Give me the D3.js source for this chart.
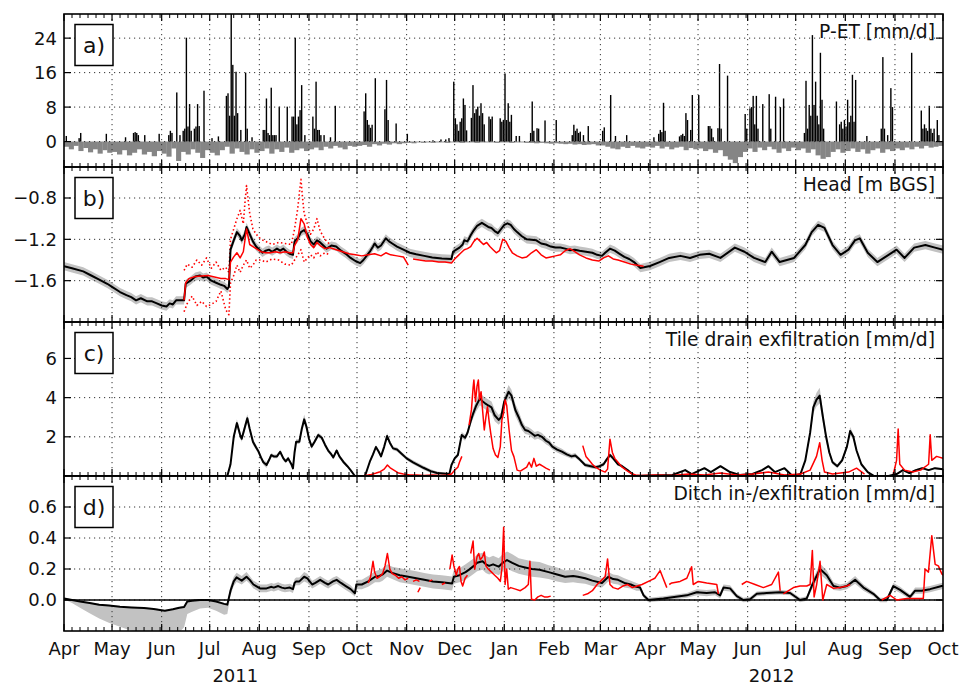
<!DOCTYPE html>
<html><head><meta charset="utf-8">
<script src="https://cdn.jsdelivr.net/npm/d3@7"></script>
<style>body{margin:0;background:#fff} text{font-family:"DejaVu Sans",sans-serif;fill:#111}</style>
</head><body><svg id="chart" width="961" height="685"></svg>
<script>
// ---------------- DATA (day = days since 2011-04-01) ----------------
const startDate = "2011-04-01", endDate = "2012-10-01";
const monthLabels = ["Apr","May","Jun","Jul","Aug","Sep","Oct","Nov","Dec","Jan","Feb","Mar","Apr","May","Jun","Jul","Aug","Sep","Oct"];
const yearLabels = [["2011",107],["2012",442]];
const panelLetters = ["a)","b)","c)","d)"];
const panelTitles = ["P-ET [mm/d]","Head [m BGS]","Tile drain exfiltration [mm/d]","Ditch in-/exfiltration [mm/d]"];
const yTicksA = [0,8,16,24], yTicksB = [-1.6,-1.2,-0.8], yTicksC = [2,4,6], yTicksD = [0.0,0.2,0.4,0.6];
const yLabelsA = ["0","8","16","24"], yLabelsB = ["\u22121.6","\u22121.2","\u22120.8"], yLabelsC = ["2","4","6"], yLabelsD = ["0.0","0.2","0.4","0.6"];

// a) P-ET positive (precipitation surplus) [day, mm/d]
const petPos = [[1,1.3],[9,0.8],[10,2],[26,1.8],[38,1],[43,2],[44,2.2],[45,2],[46,1.5],[50,1.5],[59,1.8],[65,1.5],[66,2.5],[67,2],[70,11.4],[72,1.5],[74,2.5],[75,3],[76,24.1],[77,3.5],[78,8.7],[79,2.5],[81,3],[82,3.5],[83,8.7],[84,3.6],[87,11.8],[92,0.8],[96,1.2],[101,10.6],[102,11.2],[103,6],[104,31],[105,17.8],[106,6],[107,16.2],[108,6.6],[110,2.7],[113,16],[114,3],[117,1],[124,2.7],[125,2.7],[126,10],[127,2],[128,1.5],[129,12.5],[130,1.5],[131,1.5],[132,1.5],[134,8.1],[139,8.1],[142,5.8],[143,5.8],[144,24.1],[145,4],[146,5.8],[147,7.3],[148,13.1],[150,1.5],[155,5.8],[156,3],[157,13.9],[158,2.7],[159,2.7],[160,1.5],[162,1.5],[166,1],[169,8.3],
[187,7],[188,11.2],[189,5],[190,3.9],[191,3.2],[192,3.9],[194,14.7],[200,7.5],[201,14.3],[202,5],[207,4.2],[214,1.8],[230,0.3],[235,0.5],[238,0.5],[240,0.8],[243,13.9],[244,5.4],[245,4],[246,2.5],[247,4.6],[248,5.4],[249,10],[250,8.5],[251,2.6],[254,5.5],[255,13.1],[256,6.6],[257,7.5],[258,8.1],[259,6],[260,8.9],[261,6.6],[262,4],[265,5.8],[266,5.2],[267,5.8],[272,5.4],[273,4.6],[274,5],[275,15.8],[276,5],[277,8.9],[278,4.6],[279,6.2],[282,1.3],[284,1.3],[291,2],[292,9.3],[293,2.5],[295,3.1],[296,3],[300,4.9],[307,5],[317,1.5],[318,3.9],[319,2.5],[320,3],[321,2],[322,2.3],[324,1.5],[327,3.6],[336,2.5],[337,3.3],[341,10.8],[344,1.3],[351,1.5],
[368,1],[371,1.8],[372,2.7],[373,2.2],[374,9],[375,2.5],[384,1.2],[385,1.5],[386,1.8],[387,1.3],[388,6.6],[389,5],[391,2.7],[392,10.8],[396,10.8],[402,3.6],[403,3.6],[404,3],[405,1],[408,3.1],[409,18],[410,3],[414,15.3],[425,6.4],[426,3],[428,7.7],[429,8],[430,10.6],[431,4],[432,10.6],[433,3],[436,8.7],[440,11],[441,3],[444,10.4],[447,8],[449,10],[462,2],[463,14.1],[464,3],[465,8.5],[466,6],[467,24.7],[468,8.5],[469,13.9],[470,6],[471,4],[472,20.6],[473,9.7],[474,3],[482,9.3],[484,4],[485,4.6],[486,3],[487,5],[488,3.5],[489,9.7],[490,4.5],[491,6],[492,15.5],[493,4.6],[494,14.3],[501,1.3],[510,3],[511,19.6],[512,3],[514,1.5],[516,12.4],[517,8],[529,20.6],[535,7.2],[536,3],[537,4],[538,3.1],[539,2.5],[540,8.3],[541,3],[542,2],[543,3],[545,5],[546,1.5]];

// a) P-ET negative (evapotranspiration deficit), 10 values per month, Apr 2011 .. Sep 2012
const petNeg = [
 [-1.2,-1.8,-1.0,-2.2,-1.5,-2.5,-1.8,-2.8,-2.0,-2.6],
 [-2.4,-3.0,-2.0,-3.2,-2.6,-1.8,-3.0,-2.4,-3.4,-2.2],
 [-2.8,-3.5,-1.6,-4.5,-2.4,-3.0,-1.8,-2.6,-3.8,-2.0],
 [-2.6,-3.2,-2.0,-1.2,-2.8,-1.6,-2.4,-3.0,-1.8,-2.6],
 [-2.2,-1.6,-2.8,-1.8,-2.4,-1.4,-2.6,-2.0,-1.6,-2.2],
 [-1.8,-1.4,-2.0,-1.2,-1.6,-1.0,-1.4,-1.8,-1.0,-1.2],
 [-1.0,-0.8,-1.2,-0.6,-0.9,-0.5,-0.7,-0.4,-0.6,-0.4],
 [-0.3,-0.4,-0.2,-0.3,-0.2,-0.3,-0.2,-0.2,-0.3,-0.2],
 [-0.2,-0.3,-0.2,-0.2,-0.3,-0.2,-0.2,-0.2,-0.3,-0.2],
 [-0.2,-0.3,-0.2,-0.2,-0.3,-0.3,-0.4,-0.3,-0.4,-0.5],
 [-0.4,-0.5,-0.6,-0.5,-0.7,-0.6,-0.8,-0.7,-0.6,-0.9],
 [-0.9,-1.2,-1.6,-1.8,-1.2,-1.5,-1.0,-1.4,-1.6,-1.2],
 [-1.4,-1.0,-1.6,-1.2,-1.8,-1.4,-1.2,-2.0,-1.5,-1.8],
 [-1.6,-2.2,-1.8,-2.6,-2.0,-3.4,-4.2,-5.0,-3.6,-2.4],
 [-1.6,-2.4,-1.4,-2.0,-1.2,-1.8,-2.6,-1.6,-2.2,-1.4],
 [-2.0,-1.6,-2.6,-1.8,-3.2,-4.0,-3.6,-2.4,-1.8,-2.6],
 [-2.2,-1.6,-2.4,-1.8,-2.8,-2.0,-1.6,-2.6,-1.8,-2.2],
 [-1.6,-2.0,-1.4,-1.8,-1.2,-1.6,-1.0,-1.4,-1.2,-1.0]];

// b) simulated head [day, m, band half-width]
const headSim = [[0,-1.46,0.04],[5,-1.48,0.04],[12,-1.51,0.04],[17,-1.55,0.04],[22,-1.59,0.04],[27,-1.63,0.04],[30,-1.66,0.04],[35,-1.71,0.04],[39,-1.74,0.04],[42,-1.76,0.04],[45,-1.79,0.04],[48,-1.77,0.04],[52,-1.80,0.04],[55,-1.80,0.04],[58,-1.82,0.04],[61,-1.84,0.04],[64,-1.85,0.04],[66,-1.82,0.04],[68,-1.83,0.04],[70,-1.79,0.04],[75,-1.79,0.04],[76,-1.63,0.04],[79,-1.60,0.04],[82,-1.56,0.04],[85,-1.55,0.04],[87,-1.57,0.04],[89,-1.56,0.04],[92,-1.60,0.04],[95,-1.62,0.04],[98,-1.64,0.04],[100,-1.65,0.04],[102,-1.68,0.04],[103,-1.66,0.04],[104,-1.30,0.04],[106,-1.21,0.04],[108,-1.13,0.04],[110,-1.17,0.04],[111,-1.21,0.04],[113,-1.15,0.04],[114,-1.08,0.04],[116,-1.15,0.04],[118,-1.22,0.04],[120,-1.27,0.04],[122,-1.30,0.04],[124,-1.33,0.04],[126,-1.31,0.04],[128,-1.30,0.04],[130,-1.32,0.04],[133,-1.29,0.04],[135,-1.31,0.04],[137,-1.29,0.04],[139,-1.32,0.04],[141,-1.34,0.04],[143,-1.35,0.04],[144,-1.22,0.04],[146,-1.19,0.04],[148,-1.13,0.04],[150,-1.11,0.04],[152,-1.15,0.04],[154,-1.22,0.04],[156,-1.25,0.04],[158,-1.21,0.04],[160,-1.23,0.04],[162,-1.26,0.04],[164,-1.29,0.04],[167,-1.26,0.04],[170,-1.27,0.04],[173,-1.31,0.04],[176,-1.34,0.04],[179,-1.38,0.04],[182,-1.41,0.04],[185,-1.43,0.04],[187,-1.40,0.04],[189,-1.36,0.04],[191,-1.32,0.04],[193,-1.27,0.04],[194,-1.24,0.04],[196,-1.28,0.04],[198,-1.26,0.04],[201,-1.19,0.04],[203,-1.22,0.04],[205,-1.24,0.04],[208,-1.27,0.04],[212,-1.30,0.04],[216,-1.33,0.04],[220,-1.345,0.04],[225,-1.36,0.04],[230,-1.375,0.04],[236,-1.385,0.04],[242,-1.39,0.04],[243,-1.32,0.04],[245,-1.30,0.04],[247,-1.28,0.04],[249,-1.25,0.04],[250,-1.21,0.04],[252,-1.22,0.04],[254,-1.16,0.04],[256,-1.11,0.04],[258,-1.07,0.04],[261,-1.04,0.04],[263,-1.06,0.04],[265,-1.08,0.04],[267,-1.09,0.04],[269,-1.12,0.04],[271,-1.14,0.04],[273,-1.10,0.04],[275,-1.06,0.04],[277,-1.045,0.04],[279,-1.06,0.04],[281,-1.10,0.04],[283,-1.13,0.04],[286,-1.17,0.04],[289,-1.20,0.04],[292,-1.205,0.04],[295,-1.21,0.04],[298,-1.24,0.04],[301,-1.25,0.04],[304,-1.27,0.04],[307,-1.28,0.04],[310,-1.28,0.04],[313,-1.29,0.04],[316,-1.305,0.04],[319,-1.30,0.04],[322,-1.31,0.04],[326,-1.32,0.04],[330,-1.33,0.04],[333,-1.35,0.04],[336,-1.36,0.04],[338,-1.33,0.04],[341,-1.29,0.04],[344,-1.31,0.04],[347,-1.34,0.04],[350,-1.37,0.04],[353,-1.39,0.04],[356,-1.42,0.04],[360,-1.478,0.04],[366,-1.458,0.04],[372,-1.42,0.04],[378,-1.38,0.04],[385,-1.36,0.04],[391,-1.38,0.04],[397,-1.35,0.04],[403,-1.34,0.04],[410,-1.38,0.04],[419,-1.28,0.04],[425,-1.32,0.04],[431,-1.38,0.04],[438,-1.42,0.04],[442,-1.32,0.04],[447,-1.42,0.04],[456,-1.38,0.04],[463,-1.255,0.04],[467,-1.13,0.04],[471,-1.06,0.04],[475,-1.09,0.04],[480,-1.255,0.04],[485,-1.35,0.04],[490,-1.30,0.04],[494,-1.21,0.04],[497,-1.19,0.04],[502,-1.33,0.04],[508,-1.42,0.04],[515,-1.35,0.04],[520,-1.30,0.04],[525,-1.38,0.04],[531,-1.28,0.04],[538,-1.255,0.04],[544,-1.28,0.04],[549,-1.30,0.04]];

// b) observed head (mean), segments
const headObs = [
 [[75,-1.79],[76,-1.62],[78,-1.58],[82,-1.56],[86,-1.555],[90,-1.55],[94,-1.565],[98,-1.58],[101,-1.58],[103,-1.59],[104,-1.42],[106,-1.37],[108,-1.33],[110,-1.38],[112,-1.32],[114,-1.10],[116,-1.25],[118,-1.27],[120,-1.29],[123,-1.32],[126,-1.33],[129,-1.33],[132,-1.32],[135,-1.33],[138,-1.32],[141,-1.33],[143,-1.33],[144,-1.26],[146,-1.20],[148,-1.00],[150,-1.05],[152,-1.18],[154,-1.25],[156,-1.28],[158,-1.23],[160,-1.26],[163,-1.29],[166,-1.28],[170,-1.30],[174,-1.32],[178,-1.34],[182,-1.35],[186,-1.36],[190,-1.35],[194,-1.34],[198,-1.36],[201,-1.33],[204,-1.35],[208,-1.36],[212,-1.37],[215,-1.45]],
 [[218,-1.39],[222,-1.40],[226,-1.41],[230,-1.41],[234,-1.42],[238,-1.42],[242,-1.43],[244,-1.39],[246,-1.36],[248,-1.33],[250,-1.30],[252,-1.29],[254,-1.27],[256,-1.22],[258,-1.19],[260,-1.22],[262,-1.25],[264,-1.23],[266,-1.27],[268,-1.30],[270,-1.33],[272,-1.31],[274,-1.20],[276,-1.22],[278,-1.28],[280,-1.33],[283,-1.36],[286,-1.38],[289,-1.37],[292,-1.33],[295,-1.30],[298,-1.35],[301,-1.38],[304,-1.37],[307,-1.36],[310,-1.35],[313,-1.31],[316,-1.29],[319,-1.32],[322,-1.35],[326,-1.38],[330,-1.40],[334,-1.41],[337,-1.38],[340,-1.36],[343,-1.39],[346,-1.40],[350,-1.42],[354,-1.44],[358,-1.45],[362,-1.46]]];
// b) observed head envelope (dotted)
const headObsHi = [[75,-1.50],[77,-1.44],[80,-1.47],[83,-1.40],[86,-1.45],[89,-1.38],[92,-1.48],[95,-1.42],[98,-1.50],[101,-1.47],[103,-1.52],[104,-1.20],[106,-1.10],[108,-1.00],[110,-0.92],[112,-1.05],[113,-0.85],[114,-0.68],[116,-0.95],[118,-1.10],[120,-1.15],[123,-1.20],[126,-1.22],[130,-1.25],[134,-1.23],[138,-1.24],[142,-1.25],[144,-1.10],[146,-0.90],[147,-0.75],[148,-0.62],[149,-0.80],[150,-0.95],[152,-1.05],[154,-1.15],[156,-1.10],[158,-1.00],[160,-1.12],[163,-1.20],[166,-1.25]];
const headObsLo = [[75,-1.90],[77,-1.82],[80,-1.75],[83,-1.84],[86,-1.80],[89,-1.85],[92,-1.83],[95,-1.80],[98,-1.70],[101,-1.88],[103,-1.93],[104,-1.62],[106,-1.55],[108,-1.45],[110,-1.52],[112,-1.45],[114,-1.40],[116,-1.48],[118,-1.45],[120,-1.40],[123,-1.40],[126,-1.42],[130,-1.39],[134,-1.40],[138,-1.44],[142,-1.45],[144,-1.40],[146,-1.35],[148,-1.30],[150,-1.42],[152,-1.38],[154,-1.35],[156,-1.38],[158,-1.32],[160,-1.36],[163,-1.33],[166,-1.35]];

// c) simulated tile drain exfiltration [day, mm/d, band half-width]
const tileSim = [[0,0,0],[102,0,0],[104,0.6,0.1],[106,2.0,0.15],[108,2.7,0.2],[110,2.1,0.15],[111,1.9,0.15],[113,2.5,0.2],[114.5,2.95,0.2],[116,2.4,0.15],[118,1.75,0.15],[120,1.45,0.12],[121.5,1.25,0.12],[123,0.95,0.12],[124.5,0.7,0.12],[126.5,0.56,0.15],[128,0.8,0.1],[129.5,1.07,0.1],[131,1.0,0.1],[133,1.0,0.1],[135,1.24,0.1],[137,0.9,0.1],[138.5,0.75,0.1],[140,0.9,0.1],[142,0.6,0.1],[143,0.39,0.1],[144,1.2,0.1],[145,1.75,0.12],[147,1.75,0.12],[148.5,2.4,0.15],[150,2.89,0.25],[151.5,2.5,0.2],[153,1.9,0.15],[154.7,1.5,0.12],[156.5,1.75,0.12],[158.8,2.09,0.12],[161,1.95,0.12],[163,1.6,0.12],[165,1.3,0.1],[167,1.1,0.1],[168.2,0.95,0.1],[170.3,1.3,0.1],[172,1.0,0.1],[174.4,0.73,0.1],[177,0.5,0.08],[179,0.3,0.05],[181.7,0,0],[188,0,0],[191,0.73,0.08],[193,1.1,0.1],[194.8,1.48,0.1],[196.5,1.25,0.1],[198,1.0,0.1],[200,1.5,0.12],[201.8,2.04,0.15],[203.5,1.7,0.12],[205.5,1.41,0.1],[208,1.35,0.1],[210,1.2,0.1],[214,0.9,0.1],[218,0.7,0.1],[224.5,0.42,0.1],[229,0.25,0.1],[233,0.15,0.08],[240.7,0.1,0.05],[242,0.56,0.08],[244,0.9,0.1],[246,1.07,0.1],[248.4,2.09,0.15],[250.5,1.95,0.15],[252,2.2,0.15],[254,2.8,0.2],[255.6,3.2,0.25],[257.5,3.6,0.3],[259.8,3.96,0.35],[261.5,3.8,0.3],[263,3.71,0.3],[265,3.6,0.3],[267,3.5,0.3],[269,3.1,0.3],[271.5,2.86,0.25],[273,3.0,0.25],[275,3.8,0.3],[277.7,4.3,0.35],[279.5,4.1,0.3],[281.9,3.37,0.3],[284,3.0,0.3],[286,2.6,0.25],[288,2.35,0.2],[290,2.3,0.2],[292,2.18,0.2],[294,2.05,0.2],[296,2.1,0.2],[298.5,2.0,0.2],[301,1.8,0.18],[303,1.7,0.18],[305,1.5,0.15],[308,1.35,0.15],[311,1.24,0.15],[314,1.1,0.12],[317,1.0,0.12],[319.3,1.05,0.12],[322,0.85,0.1],[325.5,0.56,0.1],[329,0.5,0.1],[332,0.45,0.1],[334,0.48,0.1],[337,0.6,0.1],[339,0.85,0.1],[341,1.07,0.1],[343,0.9,0.1],[346,0.6,0.08],[348.6,0.5,0.08],[352,0.3,0.05],[355,0.1,0.03],[357,0,0],[380,0.05,0],[388,0.3,0.05],[392,0.1,0],[400,0.4,0.05],[404,0.2,0],[410,0.5,0.05],[416,0.2,0],[422,0.05,0],[430,0.1,0],[436,0.3,0.05],[440,0.5,0.05],[444,0.2,0],[450,0.4,0.05],[455,0,0],[460,0.1,0],[463,0.8,0.1],[466,2.2,0.2],[468,3.5,0.3],[470,3.9,0.35],[472,4.1,0.4],[474,3.0,0.3],[476,2.0,0.25],[478,1.2,0.15],[480,0.7,0.1],[483,0.5,0.1],[486,0.8,0.1],[489,1.5,0.15],[491,2.3,0.2],[493,2.0,0.15],[495,1.3,0.12],[498,0.6,0.08],[502,0.2,0.03],[506,0,0],[515,0,0],[520,0.1,0.02],[524,0.3,0.05],[528,0.15,0.03],[532,0.3,0.05],[536,0.4,0.05],[540,0.3,0.05],[544,0.4,0.05],[549,0.35,0.05]];
// c) observed tile drain exfiltration, segments
const tileObs = [
 [[186,0],[190,0.05],[192,0.08],[195,0.15],[197.5,0.22],[200,0.35],[202,0.56],[204,0.4],[206,0.3],[209,0.15],[212,0.1],[216,0.05],[220,0.05],[225,0.02],[230,0.05],[235,0.03],[240,0.05],[242,0.1],[244,0.3],[246,0.45],[247,0.7],[248.5,1.0]],
 [[253,2.6],[254.5,3.4],[255.5,4.5],[256,4.9],[257,3.8],[258,4.6],[258.8,4.9],[259.5,3.9],[260.5,4.3],[261.5,3.3],[262.5,2.35],[263.5,3.0],[264.5,3.54],[265.5,2.8],[266.5,2.2],[268,1.4],[269.5,1.07],[271,0.95],[272.5,1.5],[273.5,2.86],[274.5,3.2],[275.5,3.88],[276.5,3.6],[278,2.35],[279.5,1.3],[281,0.99],[283,0.3],[285,0.25],[287,0.35],[289,0.45],[290.5,0.7],[292,0.45],[293.5,0.9],[295,0.5],[297,0.6],[299,0.5],[301,0.4],[303.5,0.3]],
 [[324,1.55],[326,1.0],[328,0.8],[330,0.6],[332,0.45],[335,0.3],[338,0.2],[339.5,0.35],[341,1.88],[342.5,1.2],[344,0.9],[346,0.7],[348.6,0.45],[352,0.25],[355,0.1],[357,0.05],[360,0.02],[370,0.05],[380,0.02],[390,0.1],[400,0.05],[410,0.15],[420,0.05],[430,0.1],[440,0.2],[450,0.05],[460,0.1],[466,0.3],[470,1.0],[472,1.7],[473.5,0.8],[475,0.2],[480,0.1],[490,0.2],[495,0.4],[500,0.1]],
 [[518,0.1],[520,0.8],[521,2.4],[522,0.6],[525,0.3],[530,0.2],[535,0.3],[540,0.6],[541,2.1],[542,0.8],[545,1.0],[549,0.9]]];

// d) simulated ditch in-/exfiltration [day, mm/d, band down, band up]
const ditchSim = [[0,0.01,0.005,0.005],[5,0,0.02,0.005],[10,-0.01,0.04,0.005],[16,-0.02,0.065,0.005],[22,-0.03,0.09,0.005],[28,-0.036,0.11,0.005],[35,-0.043,0.13,0.005],[42,-0.048,0.15,0.005],[50,-0.052,0.16,0.005],[56,-0.058,0.175,0.005],[63,-0.069,0.18,0.005],[68,-0.06,0.17,0.005],[72,-0.05,0.16,0.005],[75,-0.045,0.13,0.005],[77,-0.01,0.08,0.005],[80,-0.005,0.07,0.005],[85,0,0.055,0.005],[90,0,0.05,0.005],[95,-0.01,0.06,0.005],[100,-0.025,0.07,0.005],[102,-0.03,0.06,0.01],[104,0.06,0.03,0.03],[106,0.12,0.03,0.03],[107.8,0.146,0.03,0.03],[111,0.125,0.025,0.03],[114,0.15,0.025,0.03],[116,0.13,0.025,0.025],[118.3,0.10,0.025,0.025],[120,0.09,0.025,0.025],[122.4,0.075,0.025,0.025],[126.5,0.075,0.025,0.025],[129.6,0.085,0.025,0.025],[131,0.08,0.025,0.025],[133.8,0.09,0.025,0.025],[136,0.08,0.025,0.025],[138,0.075,0.025,0.025],[141,0.08,0.025,0.025],[143,0.07,0.025,0.025],[144,0.11,0.025,0.025],[145,0.12,0.025,0.025],[147,0.12,0.025,0.025],[150,0.15,0.03,0.03],[152,0.14,0.03,0.03],[155,0.1,0.025,0.025],[157,0.11,0.025,0.025],[160,0.13,0.025,0.025],[163,0.11,0.025,0.025],[165,0.10,0.025,0.025],[168,0.12,0.025,0.025],[170.3,0.13,0.025,0.025],[173,0.11,0.025,0.025],[176,0.09,0.025,0.025],[179,0.07,0.025,0.025],[181.7,0.043,0.02,0.02],[182.6,0.1,0.03,0.03],[186,0.1,0.03,0.03],[190,0.12,0.035,0.035],[194.3,0.15,0.035,0.035],[197,0.155,0.04,0.04],[199,0.165,0.04,0.04],[201.8,0.19,0.04,0.04],[205,0.175,0.04,0.04],[209.7,0.16,0.045,0.045],[215,0.15,0.045,0.045],[220,0.14,0.045,0.045],[225,0.13,0.045,0.045],[230.5,0.12,0.045,0.045],[236,0.115,0.045,0.045],[242.4,0.106,0.045,0.045],[243.5,0.15,0.045,0.045],[247,0.16,0.045,0.045],[250.8,0.18,0.05,0.05],[253,0.196,0.05,0.05],[256,0.22,0.05,0.05],[258,0.24,0.055,0.055],[261.4,0.25,0.055,0.055],[263.5,0.23,0.055,0.055],[265.5,0.22,0.055,0.055],[268,0.23,0.055,0.055],[271.5,0.215,0.055,0.055],[274,0.24,0.055,0.055],[276.7,0.258,0.055,0.055],[280,0.24,0.055,0.055],[284,0.22,0.05,0.05],[288,0.21,0.05,0.05],[292.3,0.2,0.05,0.05],[297,0.195,0.05,0.05],[302.7,0.18,0.045,0.045],[308,0.165,0.045,0.045],[313,0.15,0.04,0.04],[318,0.155,0.04,0.04],[321,0.15,0.04,0.04],[325.5,0.14,0.035,0.035],[330,0.125,0.035,0.035],[336,0.11,0.03,0.03],[340,0.15,0.03,0.03],[343,0.135,0.03,0.03],[346,0.13,0.03,0.03],[350,0.11,0.03,0.03],[354,0.1,0.025,0.025],[357.5,0.085,0.025,0.025],[359.8,0.08,0.02,0.02],[362,0.03,0.015,0.015],[365,0.0,0.015,0.015],[374.4,0.01,0.015,0.015],[389,0.03,0.015,0.015],[395.2,0.05,0.02,0.02],[401.4,0.045,0.02,0.02],[406.6,0.05,0.02,0.02],[409.8,0.03,0.02,0.02],[411.9,0.08,0.02,0.02],[416,0.075,0.02,0.02],[420.2,0.025,0.015,0.015],[424.3,0,0.015,0.015],[428.5,0.005,0.015,0.015],[432.7,0.04,0.015,0.015],[438.9,0.045,0.015,0.015],[447.2,0.05,0.015,0.015],[453.5,0.045,0.015,0.015],[459.7,0,0.015,0.015],[463.9,0.01,0.015,0.015],[467,0.09,0.025,0.025],[472.2,0.2,0.035,0.035],[476.4,0.16,0.03,0.03],[480.6,0.09,0.025,0.025],[484.7,0.08,0.02,0.02],[488.9,0.09,0.02,0.02],[494.1,0.13,0.025,0.025],[499.3,0.08,0.02,0.02],[505.5,0.04,0.015,0.015],[509.7,0,0.015,0.015],[513.9,0,0.015,0.015],[518,0.09,0.02,0.02],[522.2,0.065,0.02,0.02],[528.4,0.02,0.015,0.015],[531.6,0.06,0.02,0.02],[535.7,0.06,0.02,0.02],[540.9,0.07,0.02,0.02],[548.2,0.09,0.02,0.02],[549,0.09,0.02,0.02]];
// d) observed ditch in-/exfiltration, segments
const ditchObs = [
 [[190,0.11],[191.5,0.15],[193,0.25],[194,0.18],[195.5,0.14],[197,0.15],[199,0.17],[200.5,0.22],[202,0.3],[203.5,0.2],[205,0.17],[207,0.16],[209,0.14],[211,0.15],[213,0.13],[215,0.14]],
 [[218,0.12],[220,0.13],[222,0.12]],
 [[221,0.05],[222.5,0.08]],
 [[228,0.12],[230,0.13]],
 [[236,0.1],[238,0.11]],
 [[241,0.2],[242.4,0.29],[243.5,0.22],[245,0.16],[246,0.2],[247,0.216],[248,0.12],[249,0.09],[250.5,0.14],[252,0.16]],
 [[254,0.3],[255.5,0.38],[256.5,0.2],[258,0.28],[259,0.3],[260,0.26],[261.5,0.28],[262.5,0.31],[263.5,0.22],[265,0.2],[267,0.18],[269,0.16],[271,0.14],[272.5,0.12],[273.5,0.2],[274.6,0.47],[275.5,0.1],[276.5,0.2],[277.5,0.07],[279,0.08],[282,0.07],[285,0.06],[288,0.08],[290,0.1],[291,0.25],[292,0.005],[294,0],[296,0.02],[298,0.03],[300,0.02],[302,0.02],[304,0.025]],
 [[324,0.03],[327,0.04],[330,0.06],[333,0.1],[336,0.13],[338,0.15],[339.5,0.265],[341,0.1],[343,0.08],[346,0.07],[349,0.09],[352,0.1],[355,0.08],[358,0.09],[361,0.1],[366,0.125],[369,0.14],[372.3,0.19],[374,0.145],[376.5,0.08]],
 [[378,0.1],[379.6,0.11],[384.8,0.12],[389,0.14],[392,0.215],[393,0.1],[396.2,0.12],[401.4,0.11],[407.7,0.1],[408.7,0.04]],
 [[423.3,0.1],[426.4,0.12],[431.6,0.1],[436.8,0.08],[442,0.1],[446.2,0.18],[447.3,0.06]],
 [[449.3,0.04],[455.6,0.08],[459.7,0.09],[463.9,0.09],[466,0.1],[467.4,0.32],[468.5,0.02],[470.1,0.1],[472.2,0.25],[473.9,0],[476.4,0.1],[480.6,0.075],[484.7,0.08],[488.9,0.09],[491,0.1]],
 [[510.7,0],[516,0.03],[520.1,0],[526.4,0.01],[531.6,0.01],[536.7,0.01],[537.8,0.2],[539.9,0.18],[542,0.415],[544.1,0.23],[546.1,0.22],[548.2,0.17],[549,0.16]]];

// ---------------- DRAWING ----------------
const DAY = 864e5;
const t0 = new Date(startDate + "T00:00:00Z"), t1 = new Date(endDate + "T00:00:00Z");
const dt = d => new Date(t0.getTime() + d * DAY);
const svg = d3.select("#chart");
const L = 64, R = 943;
const x = d3.scaleUtc().domain([t0, t1]).range([L, R]);

const panels = [
  {top:14, bottom:167, domain:[-5.9,29.6], ticks:yTicksA, labels:yLabelsA},
  {top:167, bottom:322, domain:[-2.0,-0.5], ticks:yTicksB, labels:yLabelsB},
  {top:322, bottom:476, domain:[0,7.86], ticks:yTicksC, labels:yLabelsC},
  {top:476, bottom:631, domain:[-0.2,0.8], ticks:yTicksD, labels:yLabelsD}
];
panels.forEach((p,i) => {
  p.y = d3.scaleLinear().domain(p.domain).range([p.bottom, p.top]);
  svg.append("clipPath").attr("id","clip"+i).append("rect")
    .attr("x",L).attr("y",p.top).attr("width",R-L).attr("height",p.bottom-p.top);
  p.g = svg.append("g");
  p.data = svg.append("g").attr("clip-path","url(#clip"+i+")");
  p.grid = svg.append("g");
  p.lines = svg.append("g").attr("clip-path","url(#clip"+i+")");
});

const months = d3.utcMonth.range(t0, new Date(t1.getTime()+1));
const minor = d3.utcDay.every(5).range(t0, t1).filter(d => d.getUTCDate() !== 1);
const gridMonths = months.filter(m => +m !== +t0 && +m !== +t1);

// grid
panels.forEach(p => {
  p.grid.selectAll("line.v").data(gridMonths).join("line")
    .attr("x1",d=>x(d)).attr("x2",d=>x(d)).attr("y1",p.top).attr("y2",p.bottom)
    .attr("stroke","#333").attr("stroke-width",1).attr("stroke-dasharray","1.2,3.8");
  p.grid.selectAll("line.h").data(p.ticks).join("line")
    .attr("x1",L).attr("x2",R).attr("y1",d=>p.y(d)).attr("y2",d=>p.y(d))
    .attr("stroke","#333").attr("stroke-width",1).attr("stroke-dasharray","1.2,3.8");
});

// ---- panel a
const pa = panels[0];
const negBars = [];
petNeg.forEach((vals, m) => {
  const ms = d3.utcMonth.offset(t0, m), me = d3.utcMonth.offset(t0, m+1);
  const len = (me - ms) / vals.length;
  vals.forEach((v,k) => negBars.push({s:new Date(+ms + k*len), e:new Date(+ms + (k+1)*len), v}));
});
pa.data.selectAll("rect.neg").data(negBars).join("rect")
  .attr("x",d=>x(d.s)).attr("width",d=>x(d.e)-x(d.s)+0.3)
  .attr("y",pa.y(0)).attr("height",d=>pa.y(d.v)-pa.y(0))
  .attr("fill","#858585");
pa.data.selectAll("rect.pos").data(petPos).join("rect")
  .attr("x",d=>x(dt(d[0]))).attr("width",d=>Math.max(1.3, x(dt(d[0]+1))-x(dt(d[0]))-0.2))
  .attr("y",d=>pa.y(d[1])).attr("height",d=>pa.y(0)-pa.y(d[1]))
  .attr("fill","#000");

// helper
function band(p, data, lo, hi) {
  p.data.append("path").datum(data)
    .attr("d", d3.area().x(d=>x(dt(d[0]))).y0(d=>p.y(lo(d))).y1(d=>p.y(hi(d))))
    .attr("fill","#c2c2c2").attr("stroke","none");
}
function line(p, data, color, w, dash) {
  const path = p.lines.append("path").datum(data)
    .attr("d", d3.line().x(d=>x(dt(d[0]))).y(d=>p.y(d[1])))
    .attr("fill","none").attr("stroke",color).attr("stroke-width",w)
    .attr("stroke-linejoin","round");
  if (dash) path.attr("stroke-dasharray",dash);
}

// ---- panel b
const pb = panels[1];
band(pb, headSim, d=>d[1]-d[2], d=>d[1]+d[2]);
line(pb, headObsHi, "#ff0000", 1.6, "1.5,2.5");
line(pb, headObsLo, "#ff0000", 1.6, "1.5,2.5");
line(pb, headSim, "#000", 2);
headObs.forEach(s => line(pb, s, "#ff0000", 1.5));

// ---- panel c
const pc = panels[2];
band(pc, tileSim, d=>d[1]-d[2], d=>d[1]+d[2]);
line(pc, tileSim, "#000", 2);
tileObs.forEach(s => line(pc, s, "#ff0000", 1.5));

// ---- panel d
const pd = panels[3];
band(pd, ditchSim, d=>d[1]-d[2], d=>d[1]+d[3]);
pd.lines.append("line").attr("x1",L).attr("x2",R).attr("y1",pd.y(0)).attr("y2",pd.y(0))
  .attr("stroke","#000").attr("stroke-width",1.6);
line(pd, ditchSim, "#000", 2);
ditchObs.forEach(s => line(pd, s, "#ff0000", 1.5));

// frames, ticks, labels
panels.forEach((p,i) => {
  const g = svg.append("g");
  // x ticks top & bottom (inward)
  [[p.top,1],[p.bottom,-1]].forEach(([yy,dir]) => {
    g.selectAll(null).data(months).join("line")
      .attr("x1",d=>x(d)).attr("x2",d=>x(d)).attr("y1",yy).attr("y2",yy+dir*7)
      .attr("stroke","#000").attr("stroke-width",1.2);
    g.selectAll(null).data(minor).join("line")
      .attr("x1",d=>x(d)).attr("x2",d=>x(d)).attr("y1",yy).attr("y2",yy+dir*4)
      .attr("stroke","#000").attr("stroke-width",1);
  });
  // y ticks left & right
  [[L,1],[R,-1]].forEach(([xx,dir]) => {
    g.selectAll(null).data(p.ticks).join("line")
      .attr("x1",xx).attr("x2",xx+dir*7).attr("y1",d=>p.y(d)).attr("y2",d=>p.y(d))
      .attr("stroke","#000").attr("stroke-width",1.2);
  });
  g.selectAll(null).data(p.ticks).join("text")
    .attr("x",L-7).attr("y",d=>p.y(d)).attr("dy","0.36em")
    .attr("text-anchor","end").attr("font-size",18)
    .text((d,k)=>p.labels[k]);
  g.append("rect").attr("x",L).attr("y",p.top).attr("width",R-L).attr("height",p.bottom-p.top)
    .attr("fill","none").attr("stroke","#000").attr("stroke-width",1.6);
  // letter box
  g.append("rect").attr("x",75).attr("y",p.top+10.5).attr("width",38).attr("height",41)
    .attr("fill","#fff").attr("stroke","#000").attr("stroke-width",1.5);
  g.append("text").attr("x",94).attr("y",p.top+31).attr("dy","0.36em")
    .attr("text-anchor","middle").attr("font-size",22).text(panelLetters[i]);
  g.append("text").attr("x",935).attr("y",p.top+23.5)
    .attr("text-anchor","end").attr("font-size",18.7).text(panelTitles[i]);
});

// month + year labels
svg.selectAll("text.month").data(months).join("text")
  .attr("x",d=>x(d)).attr("y",655).attr("text-anchor","middle").attr("font-size",18)
  .text((d,k)=>monthLabels[k]);
svg.selectAll("text.year").data(yearLabels).join("text")
  .attr("x",d=>x(dt(d[1]))).attr("y",682).attr("text-anchor","middle").attr("font-size",18)
  .text(d=>d[0]);
</script></body></html>
